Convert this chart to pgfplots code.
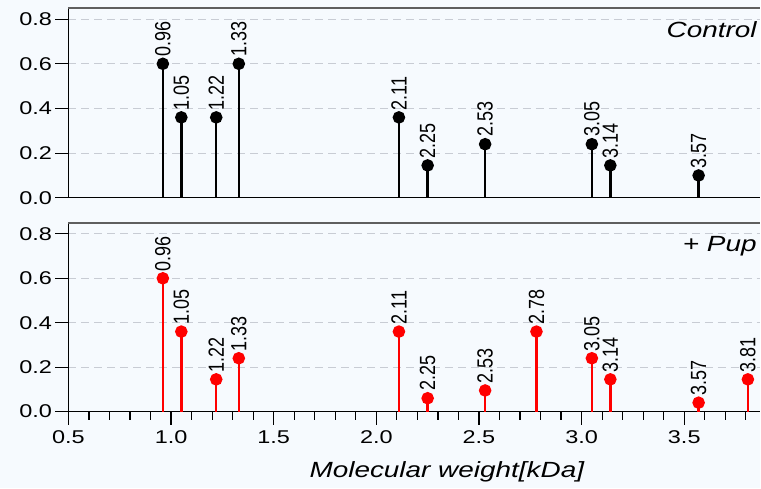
\documentclass[border=0pt]{standalone}
\usepackage{pgfplots}
\usepackage{pgfplotstable}
\pgfplotsset{compat=1.18}
\usepackage{fontspec}
\setmainfont{Liberation Sans}[FakeStretch=1.27]
\newfontfamily\plainfont{Liberation Sans}
\definecolor{bg}{RGB}{246,250,254}
\definecolor{gridc}{RGB}{200,204,212}
\definecolor{topc}{RGB}{95,95,95}
\definecolor{pupred}{RGB}{255,0,0}

\pgfplotstableread{
x y lab
0.96 0.60 0.96
1.05 0.36 1.05
1.22 0.36 1.22
1.33 0.60 1.33
2.11 0.36 2.11
2.25 0.145 2.25
2.53 0.24 2.53
3.05 0.24 3.05
3.14 0.145 3.14
3.57 0.10 3.57
}\controldata

\pgfplotstableread{
x y lab
0.96 0.60 0.96
1.05 0.36 1.05
1.22 0.145 1.22
1.33 0.24 1.33
2.11 0.36 2.11
2.25 0.06 2.25
2.53 0.095 2.53
2.78 0.36 2.78
3.05 0.24 3.05
3.14 0.145 3.14
3.57 0.04 3.57
3.81 0.145 3.81
}\pupdata

\pgfplotsset{
  stempanel/.style={
    scale only axis, width=692.5pt, height=190pt,
    xmin=0.5, xmax=3.87, ymin=0, ymax=0.85,
    axis lines*=left,
    axis line style={black, line width=1.2pt},
    tick align=outside,
    major tick length=13pt, minor tick length=8pt,
    tick style={black, line width=1.2pt},
    ytick={0,0.2,0.4,0.6,0.8},
    /pgf/number format/assume math mode=true,
    yticklabel style={font=\fontsize{18.5}{20}\selectfont, /pgf/number format/.cd, fixed, fixed zerofill, precision=1},
    xticklabel style={font=\fontsize{18.5}{20}\selectfont, yshift=-3pt, /pgf/number format/.cd, fixed, fixed zerofill, precision=1},
    ymajorgrids,
    grid style={gridc, dash pattern=on 8pt off 5pt, line width=1pt},
    axis background/.style={fill=bg},
    clip=false,
    point meta=explicit symbolic,
    nodes near coords={\rotatebox{90}{\plainfont\fontsize{18}{20}\selectfont\scalebox{1}[1.22]{\pgfplotspointmeta}}},
    every node near coord/.append style={anchor=south, yshift=5pt, inner sep=1pt, text=black},
  },
}

\begin{document}
\begin{tikzpicture}
\fill[bg] (0pt,0pt) rectangle (761pt,489pt);

\begin{axis}[stempanel, at={(68.5pt,291pt)}, anchor=south west, xtick=\empty]
\addplot[ycomb, black, line width=2.5pt, mark=*, mark size=5pt, mark options={solid, fill=black}]
  table[x=x, y=y, meta=lab] {\controldata};
\draw[topc, line width=1.6pt] (rel axis cs:0,1) -- (rel axis cs:1,1);
\node[anchor=base east, font=\fontsize{22}{24}\selectfont\itshape] at (rel axis cs:1,0.847) {Control};
\end{axis}

\begin{axis}[stempanel, at={(68.5pt,77pt)}, anchor=south west, height=189pt,
  xtick={0.5,1.0,1.5,2.0,2.5,3.0,3.5},
  minor xtick={0.6,0.7,0.8,0.9,1.1,1.2,1.3,1.4,1.6,1.7,1.8,1.9,2.1,2.2,2.3,2.4,2.6,2.7,2.8,2.9,3.1,3.2,3.3,3.4,3.6,3.7,3.8}]
\addplot[ycomb, pupred, line width=2.5pt, mark=*, mark size=5pt, mark options={solid, fill=pupred}]
  table[x=x, y=y, meta=lab] {\pupdata};
\draw[topc, line width=1.6pt] (rel axis cs:0,1) -- (rel axis cs:1,1);
\node[anchor=base east, font=\fontsize{22}{24}\selectfont\itshape] at (rel axis cs:1,0.847) {+ Pup};
\node[anchor=base, font=\fontsize{22}{24}\selectfont\itshape] at (rel axis cs:0.547,0) [yshift=-66pt] {Molecular weight[kDa]};
\end{axis}

\useasboundingbox (0pt,0pt) rectangle (761pt,489pt);
\end{tikzpicture}
\end{document}
